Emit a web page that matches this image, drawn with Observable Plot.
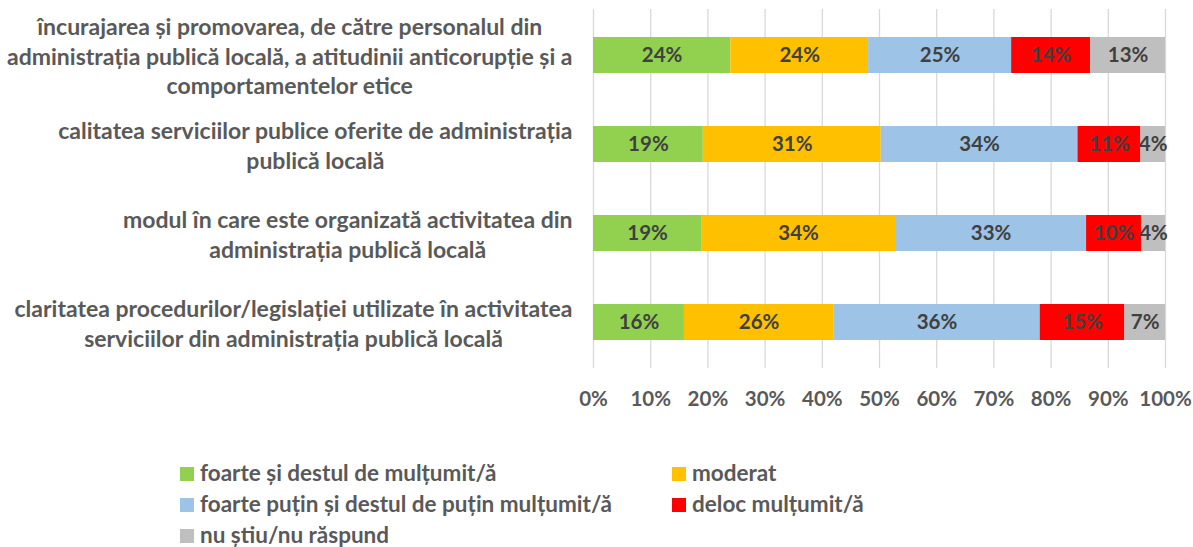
<!DOCTYPE html>
<html>
<head>
<meta charset="utf-8">
<script src="https://cdn.jsdelivr.net/npm/d3@7"></script>
<script src="https://cdn.jsdelivr.net/npm/@observablehq/plot@0.6"></script>
<style>
  body { margin: 0; background: #fff; font-family: Lato, "Open Sans", sans-serif; }
  #chart svg { display: block; }
  .legend { display: grid; grid-template-columns: 492px 300px; padding-left: 180px; margin-top: 37px;
            font-weight: bold; font-size: 22.5px; color: #595959; line-height: 31px; }
  .legend div { white-space: nowrap; }
  .legend span.sw { display: inline-block; width: 14px; height: 14px; margin-right: 6px; vertical-align: 0px; }
</style>
</head>
<body>
<div id="chart"></div>
<div class="legend" id="legend"></div>
<script>
const categories = [
  "încurajarea și promovarea, de către personalul din\nadministrația publică locală, a atitudinii anticorupție și a\ncomportamentelor etice",
  "calitatea serviciilor publice oferite de administrația\npublică locală",
  "modul în care este organizată activitatea din\nadministrația publică locală",
  "claritatea procedurilor/legislației utilizate în activitatea\nserviciilor din administrația publică locală"
];
const seriesNames = [
  "foarte și destul de mulțumit/ă",
  "moderat",
  "foarte puțin și destul de puțin mulțumit/ă",
  "deloc mulțumit/ă",
  "nu știu/nu răspund"
];
const seriesColors = ["#92D050", "#FFC000", "#9DC3E6", "#FF0000", "#BFBFBF"];
// values per category (top to bottom), in percent
const multumit = [24.0, 19.2, 18.9, 15.9];
const moderat  = [24.1, 31.1, 33.9, 26.1];
const putin    = [25.0, 34.4, 33.4, 36.1];
const deloc    = [13.8, 11.0, 9.6, 14.8];
const nuStiu   = [13.1, 4.3, 4.2, 7.1];
const xTicks = [0, 10, 20, 30, 40, 50, 60, 70, 80, 90, 100];

const seriesValues = [multumit, moderat, putin, deloc, nuStiu];
const data = [];
categories.forEach((c, j) => {
  seriesValues.forEach((vals, i) => {
    data.push({cat: c, series: seriesNames[i], value: vals[j]});
  });
});

const plot = Plot.plot({
  width: 1193,
  height: 420,
  marginLeft: 593,
  marginRight: 28,
  marginTop: 9,
  marginBottom: 52,
  style: {fontFamily: "Lato, 'Open Sans', sans-serif", background: "#fff"},
  x: {domain: [0, 100], ticks: xTicks},
  y: {domain: categories, paddingInner: 0.6, paddingOuter: 0.3},
  color: {domain: seriesNames, range: seriesColors},
  marks: [
    Plot.gridX(xTicks, {stroke: "#D9D9D9", strokeOpacity: 1, strokeWidth: 1.3}),
    Plot.barX(data, Plot.stackX({x: "value", y: "cat", fill: "series", z: "series"})),
    Plot.text(data, Plot.stackX({x: "value", y: "cat", z: "series",
      text: d => Math.round(d.value) + "%",
      fill: "#404040", fontSize: 20.5, fontWeight: "bold"})),
    Plot.axisX(xTicks, {tickSize: 0, tickPadding: 23, tickFormat: d => d + "%",
      fontSize: 20.5, fontWeight: "bold", fill: "#595959", label: null}),
    Plot.axisY({tickSize: 0, tickPadding: 21, fontSize: 23, fontWeight: "bold",
      fill: "#595959", lineHeight: 1.28, label: null, textOverflow: null, lineWidth: Infinity})
  ]
});
document.getElementById("chart").appendChild(plot);

// center each multi-line label on itself, keeping the block right-aligned
plot.querySelectorAll('g[aria-label="y-axis tick label"] text').forEach(t => {
  const w = t.getBBox().width;
  const tr = t.getAttribute("transform");
  const m = tr && tr.match(/translate\(([-\d.]+),\s*([-\d.]+)\)/);
  t.setAttribute("text-anchor", "middle");
  if (m) {
    t.setAttribute("transform", `translate(${+m[1] - w / 2},${m[2]})`);
  } else {
    const x = +(t.getAttribute("x") || 0);
    t.setAttribute("x", x - w / 2);
    t.querySelectorAll("tspan").forEach(s => s.setAttribute("x", x - w / 2));
  }
});

const legend = document.getElementById("legend");
seriesNames.forEach((name, i) => {
  const d = document.createElement("div");
  d.innerHTML = `<span class="sw" style="background:${seriesColors[i]}"></span>${name}`;
  legend.appendChild(d);
});
</script>
</body>
</html>
